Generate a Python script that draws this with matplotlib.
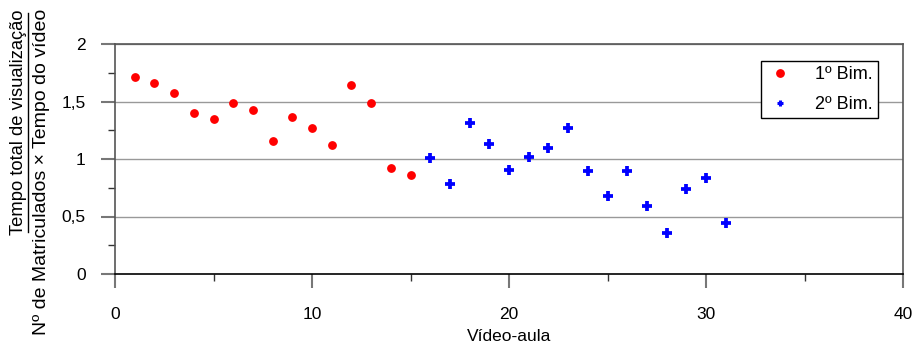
import numpy as np
import matplotlib
matplotlib.use("Agg")
import matplotlib.pyplot as plt
from matplotlib.lines import Line2D

plt.rcParams['font.family'] = ['Liberation Sans', 'DejaVu Sans']

# data
aula_1bim = [1, 2, 3, 4, 5, 6, 7, 8, 9, 10, 11, 12, 13, 14, 15]
taxa_1bim = [1.716, 1.658, 1.571, 1.397, 1.345, 1.484, 1.423, 1.157,
             1.365, 1.272, 1.119, 1.641, 1.487, 0.925, 0.858]
aula_2bim = [16, 17, 18, 19, 20, 21, 22, 23, 24, 25, 26, 27, 28, 29, 30, 31]
taxa_2bim = [1.011, 0.785, 1.316, 1.133, 0.901, 1.014, 1.093, 1.267,
             0.893, 0.681, 0.893, 0.591, 0.357, 0.736, 0.838, 0.446]

yticks = [0, 0.5, 1, 1.5, 2]
ytick_labels = ["0", "0,5", "1", "1,5", "2"]
xticks = [0, 10, 20, 30, 40]

fig = plt.figure(figsize=(9.15, 3.47), dpi=100)
ax = fig.add_axes([115 / 915, 1 - 274 / 347, (903 - 115) / 915, (274 - 44) / 347])

ax.plot(aula_1bim, taxa_1bim, 'o', color='red', markersize=5.3, label="1º Bim.", zorder=3)
ax.plot(aula_2bim, taxa_2bim, '+', color='blue', markersize=7.5, markeredgewidth=2.7,
        label="2º Bim.", zorder=3)

ax.set_xlim(0, 40)
ax.set_ylim(0, 2)
ax.set_xticks(xticks)
ax.set_xticks([5, 15, 25, 35], minor=True)
ax.set_yticks(yticks)
ax.set_yticklabels(ytick_labels)
ax.set_yticks([0.25, 0.75, 1.25, 1.75], minor=True)

for y in yticks[1:]:
    ax.axhline(y, color='#999999', linewidth=1, zorder=1)

ax.tick_params(axis='both', which='major', labelsize=12.5, direction='out', color='#777777',
               width=1.5, length=10)
ax.tick_params(axis='both', which='minor', direction='out', color='#333333', width=1, length=5)
ax.tick_params(axis='y', which='major', pad=11)
ax.tick_params(axis='x', which='major', pad=14)

ax.spines['left'].set_color('#555555')
ax.spines['bottom'].set_color('black')
ax.spines['top'].set_color('#555555')
ax.spines['right'].set_color('#555555')
for s in ax.spines.values():
    s.set_linewidth(1.2)

ax.set_xlabel("Vídeo-aula", fontsize=12.5, labelpad=5)

# y label as a fraction
fig.text(19 / 915, 1 - 122 / 347, "Tempo total de visualização", rotation=90,
         fontsize=13.2, ha='center', va='center')
fig.add_artist(Line2D([27.5 / 915, 27.5 / 915], [1 - 232 / 347, 1 - 13 / 347],
                      transform=fig.transFigure, color='black', linewidth=1))
fig.text(42 / 915, 1 - 172 / 347, "Nº de Matriculados × Tempo do vídeo", rotation=90,
         fontsize=14, ha='center', va='center')

leg = ax.legend(loc='upper right', bbox_to_anchor=(0.968, 0.926), borderaxespad=0,
                fontsize=13, frameon=True, fancybox=False, edgecolor='black', framealpha=1,
                handlelength=1.5, handletextpad=1.2, borderpad=0.3, labelspacing=0.7)
leg.get_frame().set_linewidth(1)
leg.legend_handles[1].set_markersize(5)
leg.legend_handles[1].set_markeredgewidth(2.2)

fig.savefig("out.png", dpi=100)
